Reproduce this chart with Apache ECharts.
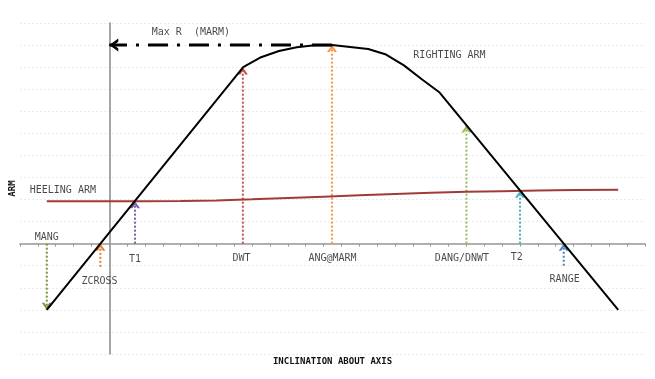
<!DOCTYPE html>
<html>
<head>
<meta charset="utf-8">
<script src="https://cdn.jsdelivr.net/npm/echarts@6/dist/echarts.min.js"></script>
<style>html,body{margin:0;padding:0;background:#fff;}#c{width:655px;height:379px;}</style>
</head>
<body>
<div id="c"></div>
<script>
// ---- data ----
const rightingX = [-3.5, 7.5, 8.5, 9.5, 10.5, 11.5, 12.47, 14.5, 15.5, 16.5, 17.5, 18.5, 28.5];
const rightingY = [-3.0, 8.0, 8.45, 8.73, 8.9, 8.99, 9.0, 8.82, 8.57, 8.08, 7.45, 6.85, -3.0];
const heelX = [-3.5, 0, 2, 4, 6, 8, 10, 12, 14, 16, 18, 20, 22, 24, 26, 28.5];
const heelY = [1.92, 1.92, 1.92, 1.93, 1.96, 2.01, 2.07, 2.13, 2.19, 2.25, 2.31, 2.35, 2.38, 2.41, 2.43, 2.44];
const arrowNames = ['MANG', 'ZCROSS', 'T1', 'DWT', 'ANG@MARM', 'DANG/DNWT', 'T2', 'RANGE'];
const arrowX = [-3.5, -0.5, 1.44, 7.48, 12.47, 20.0, 23.0, 25.45];
const arrowFrom = [0, -1.05, 0, 0, 0, 0, 0, -1.0];
const arrowTo = [-3.0, 0, 1.92, 7.98, 9.0, 5.35, 2.40, 0];
const marmY = 9.0;
const marmFromX = 12.47;
const marmToX = 0;
const labelTexts = ['MANG', 'ZCROSS', 'T1', 'DWT', 'ANG@MARM', 'DANG/DNWT', 'T2', 'RANGE', 'RIGHTING ARM', 'HEELING ARM', 'Max R  (MARM)'];
const labelX = [-3.5, -0.55, 1.44, 7.4, 12.5, 19.75, 22.82, 25.5, 19.05, -2.6, 4.57];
const labelY = [0.29, -1.71, -0.72, -0.68, -0.68, -0.68, -0.62, -1.6, 8.55, 2.43, 9.58];

// ---- styles ----
const arrowColors = ['#77933c', '#e47b2a', '#7b5ea7', '#c0504d', '#f79646', '#9bbb59', '#4bacc6', '#4f81bd'];
const FONT = 'DejaVu Sans Mono';
const CHEV = 'path://M0,7 L5,0 L10,7 L7.5,7 L5,3.4 L2.5,7 Z';

const series = [];
arrowNames.forEach((n, i) => {
  const up = arrowTo[i] > arrowFrom[i];
  series.push({
    type: 'line', name: n, silent: true, z: 2,
    data: [
      { value: [arrowX[i], arrowFrom[i]], symbol: 'none' },
      { value: [arrowX[i], arrowTo[i]], symbol: CHEV, symbolSize: [10, 7],
        symbolRotate: up ? 0 : 180, symbolOffset: up ? [0, 3.5] : [0, -3.5] }
    ],
    showAllSymbol: true,
    lineStyle: { color: arrowColors[i], width: 2, type: [2, 2] },
    itemStyle: { color: arrowColors[i], borderWidth: 0 }
  });
});
series.push({
  type: 'line', name: 'HEELING ARM', silent: true, z: 3, symbol: 'none',
  data: heelX.map((x, i) => [x, heelY[i]]),
  lineStyle: { color: '#a33a3a', width: 2 }
});
series.push({
  type: 'line', name: 'RIGHTING ARM', silent: true, z: 4, symbol: 'none',
  data: rightingX.map((x, i) => [x, rightingY[i]]),
  lineStyle: { color: '#000', width: 2 }
});
series.push({
  type: 'line', name: 'MARM', silent: true, z: 5,
  data: [
    { value: [marmFromX, marmY], symbol: 'none' },
    { value: [marmToX, marmY], symbol: CHEV, symbolSize: [13, 9], symbolRotate: 90, symbolOffset: [4.5, 0] }
  ],
  showAllSymbol: true,
  lineStyle: { color: '#000', width: 3, type: [20, 9, 3, 9] },
  itemStyle: { color: '#000', borderWidth: 0 }
});
series.push({
  type: 'scatter', silent: true, z: 6, symbolSize: 0,
  data: labelTexts.map((t, i) => [labelX[i], labelY[i], t]),
  label: {
    show: true, position: 'inside', formatter: p => p.value[2],
    fontFamily: FONT, fontSize: 10, color: '#1a1a1a'
  }
});

const chart = echarts.init(document.getElementById('c'), null, { renderer: 'canvas' });
chart.setOption({
  animation: false,
  backgroundColor: '#fff',
  grid: { left: 20, right: 10, top: 23, bottom: 25, containLabel: false, outerBoundsMode: 'none' },
  xAxis: {
    type: 'value', min: -5, max: 30, interval: 1,
    name: 'INCLINATION ABOUT AXIS', nameLocation: 'middle', nameGap: 3,
    nameTextStyle: { fontFamily: FONT, fontSize: 9, fontWeight: 'bold', color: '#111' },
    axisLine: { onZero: true, lineStyle: { color: '#999', width: 1.5 } },
    axisTick: { show: true, length: 3, lineStyle: { color: '#999' } },
    axisLabel: { show: false },
    splitLine: { show: false }
  },
  yAxis: {
    type: 'value', min: -5, max: 10, interval: 1,
    name: 'ARM', nameLocation: 'middle', nameGap: 3, nameRotate: 90,
    nameTextStyle: { fontFamily: FONT, fontSize: 9, fontWeight: 'bold', color: '#111' },
    axisLine: { show: true, onZero: true, lineStyle: { color: '#888', width: 1.5 } },
    axisTick: { show: false },
    axisLabel: { show: false },
    splitLine: { show: true, lineStyle: { color: '#ebebeb', type: [2, 2], width: 1 } }
  },
  series: series
});
</script>
</body>
</html>
